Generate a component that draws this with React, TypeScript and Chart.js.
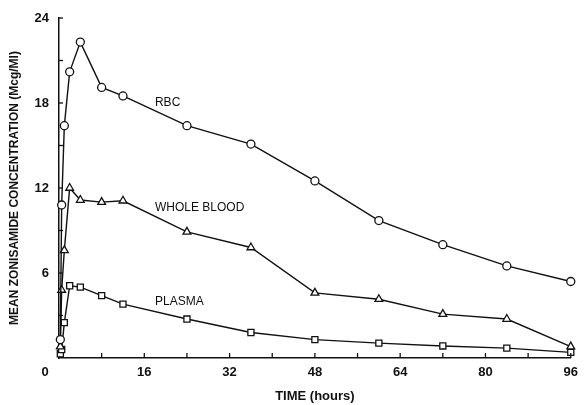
import React, { useEffect, useRef } from 'react';
import { Chart, registerables } from 'chart.js';

Chart.register(...registerables);

const hours = [0.25, 0.5, 1, 2, 4, 8, 12, 24, 36, 48, 60, 72, 84, 96];
const rbc = [1.3, 10.8, 16.4, 20.2, 22.3, 19.1, 18.5, 16.4, 15.1, 12.5, 9.7, 8.0, 6.5, 5.4];
const wholeBlood = [0.8, 4.8, 7.6, 12.0, 11.15, 11.0, 11.1, 8.9, 7.8, 4.6, 4.15, 3.1, 2.75, 0.8];
const plasma = [0.3, 0.6, 2.5, 5.1, 5.0, 4.4, 3.8, 2.75, 1.8, 1.3, 1.05, 0.85, 0.7, 0.4];
const seriesNames = ['RBC', 'WHOLE BLOOD', 'PLASMA'];
const xLabelStep = 16;
const yLabelStep = 6;

const FAMILY = "'Liberation Sans', Arial, sans-serif";
const TICK_FONT = 13;
const TICK_PAD = 7;

const inkPlugin = {
  id: 'ink',
  afterDatasetsDraw(chart: any) {
    const ctx = chart.ctx as CanvasRenderingContext2D;
    const xs = chart.scales.x;
    const ys = chart.scales.y;
    const area = chart.chartArea;
    ctx.save();
    ctx.strokeStyle = '#111';
    ctx.lineWidth = 1.3;
    // inward tick marks
    xs.ticks.forEach((t: any) => {
      if (t.value === 0) return;
      const px = xs.getPixelForValue(t.value);
      ctx.beginPath();
      ctx.moveTo(px, area.bottom);
      ctx.lineTo(px, area.bottom - 5);
      ctx.stroke();
    });
    ys.ticks.forEach((t: any) => {
      if (t.value === 0) return;
      const py = ys.getPixelForValue(t.value);
      ctx.beginPath();
      ctx.moveTo(area.left, py);
      ctx.lineTo(area.left + 4, py);
      ctx.stroke();
    });
    // zero label, set to the left of the origin
    ctx.fillStyle = '#111';
    ctx.font = `bold ${TICK_FONT}px ${FAMILY}`;
    ctx.textAlign = 'center';
    ctx.textBaseline = 'middle';
    ctx.fillText('0', xs.getPixelForValue(0) - 14, xs.top + TICK_PAD + (TICK_FONT * 1.2) / 2);
    // series names
    const anchors = [
      [18, 18],
      [18, 10.6],
      [18, 4],
    ];
    ctx.font = `12px ${FAMILY}`;
    ctx.textAlign = 'left';
    seriesNames.forEach((n, i) => {
      ctx.fillText(n, xs.getPixelForValue(anchors[i][0]), ys.getPixelForValue(anchors[i][1]));
    });
    ctx.restore();
  },
};

const toPoints = (vals: number[]) => vals.map((v, i) => ({ x: hours[i], y: v }));

export default function App() {
  const ref = useRef<HTMLCanvasElement | null>(null);
  useEffect(() => {
    if (!ref.current) return;
    const common = {
      borderColor: '#111',
      borderWidth: 1.4,
      pointBackgroundColor: '#fff',
      pointBorderColor: '#111',
      pointBorderWidth: 1.3,
      tension: 0,
      clip: false as any,
      fill: false,
    };
    const chart = new Chart(ref.current, {
      type: 'line',
      data: {
        datasets: [
          { ...common, label: seriesNames[0], data: toPoints(rbc), pointStyle: 'circle', pointRadius: 4 },
          { ...common, label: seriesNames[1], data: toPoints(wholeBlood), pointStyle: 'triangle', pointRadius: 4.5 },
          { ...common, label: seriesNames[2], data: toPoints(plasma), pointStyle: 'rect', pointRadius: 4.3 },
        ],
      },
      options: {
        animation: false,
        responsive: false,
        devicePixelRatio: 1,
        layout: { padding: { left: 0, top: 18, right: 9, bottom: 0 } },
        plugins: { legend: { display: false }, tooltip: { enabled: false } },
        scales: {
          x: {
            type: 'linear',
            min: 0,
            max: 96,
            afterFit: (s: any) => {
              s.height = 47;
            },
            border: { display: true, color: '#111', width: 1.5 },
            grid: { display: true, drawOnChartArea: false, drawTicks: false },
            ticks: {
              stepSize: 8,
              padding: TICK_PAD,
              maxRotation: 0,
              autoSkip: false,
              color: '#111',
              font: { family: FAMILY, size: TICK_FONT, weight: 'bold' },
              callback: (v: any) => (v !== 0 && v % xLabelStep === 0 ? String(v) : ''),
            },
            title: {
              display: true,
              text: 'TIME (hours)',
              color: '#111',
              font: { family: FAMILY, size: 13, weight: 'bold' },
              padding: { top: 0, bottom: 1 },
            },
          },
          y: {
            type: 'linear',
            min: 0,
            max: 24,
            afterFit: (s: any) => {
              s.width = 59;
            },
            border: { display: true, color: '#111', width: 1.5 },
            grid: { display: true, drawOnChartArea: false, drawTicks: false },
            ticks: {
              stepSize: 3,
              padding: 10,
              autoSkip: false,
              color: '#111',
              font: { family: FAMILY, size: TICK_FONT, weight: 'bold' },
              callback: (v: any) => (v !== 0 && v % yLabelStep === 0 ? String(v) : ''),
            },
            title: {
              display: true,
              text: 'MEAN ZONISAMIDE CONCENTRATION (Mcg/Ml)',
              color: '#111',
              font: { family: FAMILY, size: 12, weight: 'bold' },
              padding: { top: 7, bottom: 0 },
            },
          },
        },
      },
      plugins: [inkPlugin],
    });
    return () => chart.destroy();
  }, []);
  return (
    <div style={{ position: 'absolute', left: 0, top: 0, width: 585, height: 405, background: '#fff' }}>
      <canvas ref={ref} width={585} height={405} />
    </div>
  );
}
